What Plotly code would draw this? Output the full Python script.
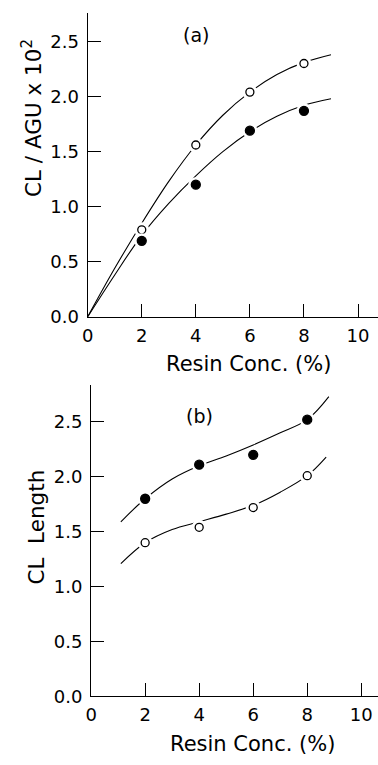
import plotly.graph_objects as go

# ---- data ----
conc = [2, 4, 6, 8]

# panel (a): CL / AGU x 10^2
a_open = [0.79, 1.56, 2.04, 2.30]
a_filled = [0.69, 1.20, 1.69, 1.87]
a_fit_x = [0, 1, 2, 3, 4, 5, 6, 7, 8, 9]
a_fit_open = [0, 0.44, 0.85, 1.23, 1.56, 1.83, 2.04, 2.20, 2.31, 2.38]
a_fit_filled = [0, 0.38, 0.74, 1.03, 1.28, 1.50, 1.68, 1.82, 1.92, 1.98]

# panel (b): CL length
b_filled = [1.80, 2.11, 2.20, 2.52]
b_open = [1.40, 1.54, 1.72, 2.01]
b_fit_filled_x = [1.1, 2, 3, 4, 5, 6, 7, 8, 8.8]
b_fit_filled = [1.59, 1.80, 1.98, 2.10, 2.19, 2.29, 2.40, 2.52, 2.73]
b_fit_open_x = [1.1, 2, 3, 4, 5, 6, 7, 8, 8.7]
b_fit_open = [1.21, 1.40, 1.52, 1.59, 1.66, 1.74, 1.86, 2.01, 2.18]

x_ticks = [0, 2, 4, 6, 8, 10]
y_ticks = [0.0, 0.5, 1.0, 1.5, 2.0, 2.5]
y_tick_text = ["0.0", "0.5", "1.0", "1.5", "2.0", "2.5"]

W, H = 378, 765
FONT = "DejaVu Sans, Arial, sans-serif"

fig = go.Figure()


def add_panel(xa, ya, fits, points):
    for fx, fy in fits:
        fig.add_trace(go.Scatter(x=fx, y=fy, mode="lines", xaxis=xa, yaxis=ya,
                                 line=dict(color="black", width=1.1, shape="spline", smoothing=1.0),
                                 hoverinfo="skip", showlegend=False))
    for py, filled in points:
        # white halo (gap in curve around marker)
        fig.add_trace(go.Scatter(x=conc, y=py, mode="markers", xaxis=xa, yaxis=ya,
                                 marker=dict(symbol="circle", size=15, color="white",
                                             line=dict(width=0)),
                                 hoverinfo="skip", showlegend=False))
        fig.add_trace(go.Scatter(x=conc, y=py, mode="markers", xaxis=xa, yaxis=ya,
                                 marker=dict(symbol="circle", size=9 if filled else 8,
                                             color="black" if filled else "white",
                                             line=dict(color="black", width=1.3)),
                                 showlegend=False))


add_panel("x", "y", [(a_fit_x, a_fit_open), (a_fit_x, a_fit_filled)],
          [(a_open, False), (a_filled, True)])
add_panel("x2", "y2", [(b_fit_filled_x, b_fit_filled), (b_fit_open_x, b_fit_open)],
          [(b_filled, True), (b_open, False)])

axis_common = dict(showline=True, linecolor="black", linewidth=1.3, ticks="inside",
                   ticklen=13, tickwidth=1.3, tickcolor="black", showgrid=False,
                   zeroline=False, tickfont=dict(family=FONT, size=18, color="black"))

fig.update_layout(
    width=W, height=H,
    margin=dict(l=0, r=0, t=0, b=0),
    paper_bgcolor="white", plot_bgcolor="white",
    font=dict(family=FONT, color="black"),
    xaxis=dict(domain=[83 / W, 1.0], range=[0, 295 / 27.47], tickvals=x_ticks,
               anchor="y", ticklabelstandoff=2, **axis_common),
    yaxis=dict(domain=[1 - 321 / H, 1 - 13 / H], range=[0, 308 / 111.6], tickvals=y_ticks,
               ticktext=y_tick_text, anchor="x", ticklabelstandoff=4, **axis_common),
    xaxis2=dict(domain=[86.5 / W, 1.0], range=[0, 291.5 / 27.45], tickvals=x_ticks,
                anchor="y2", ticklabelstandoff=2, **axis_common),
    yaxis2=dict(domain=[1 - 705.7 / H, 1 - 390 / H], range=[0, 315.7 / 111.3], tickvals=y_ticks,
                ticktext=y_tick_text, anchor="x2", ticklabelstandoff=4, **axis_common),
)

common_ann = dict(showarrow=False, xanchor="center", yanchor="middle")
fig.add_annotation(x=4.0, y=2.56, xref="x", yref="y", text="(a)",
                   font=dict(family=FONT, size=19, color="black"), **common_ann)
fig.add_annotation(x=4.0, y=2.55, xref="x2", yref="y2", text="(b)",
                   font=dict(family=FONT, size=19, color="black"), **common_ann)
fig.add_annotation(x=246 / W, y=1 - 369 / H, xref="paper", yref="paper",
                   text="Resin Conc. (%)",
                   font=dict(family=FONT, size=21, color="black"), **common_ann)
fig.add_annotation(x=250 / W, y=1 - 754 / H, xref="paper", yref="paper",
                   text="Resin Conc. (%)",
                   font=dict(family=FONT, size=21, color="black"), **common_ann)
fig.add_annotation(x=27 / W, y=1 - 120 / H, xref="paper", yref="paper",
                   text="CL / AGU x 10<sup>2</sup>", textangle=-90,
                   font=dict(family=FONT, size=21.5, color="black"), **common_ann)
fig.add_annotation(x=30 / W, y=1 - 534 / H, xref="paper", yref="paper",
                   text="CL\u00a0\u00a0Length", textangle=-90,
                   font=dict(family=FONT, size=21.5, color="black"), **common_ann)

fig.write_html("out.html")
